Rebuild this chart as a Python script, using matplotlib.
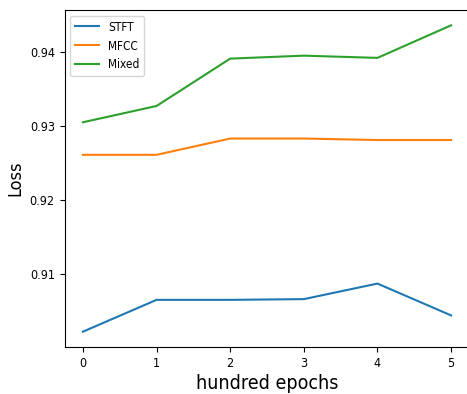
import matplotlib
matplotlib.use("Agg")
import matplotlib.pyplot as plt

plt.rcParams['font.family'] = ['DejaVu Sans']
plt.rcParams['font.stretch'] = 'condensed'

epochs = [0, 1, 2, 3, 4, 5]
stft = [0.9022, 0.9065, 0.9065, 0.9066, 0.9087, 0.9044]
mfcc = [0.9261, 0.9261, 0.9283, 0.9283, 0.9281, 0.9281]
mixed = [0.9305, 0.9327, 0.9391, 0.9395, 0.9392, 0.9436]
yticks = [0.91, 0.92, 0.93, 0.94]
ytick_labels = ["0.91", "0.92", "0.93", "0.94"]

fig = plt.figure(figsize=(4.67, 3.94), dpi=100)
ax = fig.add_axes([64.5/467, 47/394, (469.5-64.5)/467, (384-47)/394])
ax.plot(epochs, stft, color="#1f77b4", label="STFT")
ax.plot(epochs, mfcc, color="#ff7f0e", label="MFCC")
ax.plot(epochs, mixed, color="#2ca02c", label="Mixed")
ax.set_xlim(-0.25, 5.25)
ax.spines['right'].set_visible(False)
ax.set_yticks(yticks)
ax.set_yticklabels(ytick_labels)
ax.tick_params(labelsize=9)
ax.set_xlabel("hundred epochs", fontsize=14, labelpad=3)
ax.set_ylabel("Loss", fontsize=13)
ax.legend(loc="upper left", fontsize=8.5, handlelength=2.0)
fig.savefig("out.png", dpi=100)
